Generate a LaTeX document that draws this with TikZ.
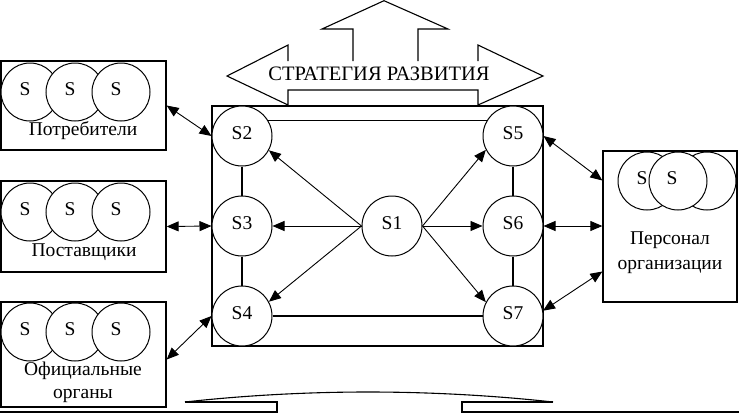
\documentclass[tikz,border=0pt]{standalone}
\usepackage{fontspec}
\setmainfont{Liberation Serif}
\usetikzlibrary{shapes}
\usetikzlibrary{arrows.meta}
\tikzset{
  textnode/.style = {inner sep=0pt, font=\fontsize{19.5}{24}\selectfont},
  s_node/.style = {textnode, circle, draw=black, fill=white, line width=1pt,
    minimum size=60pt, text depth=6pt},% подсистема организации
  sub_node/.style = {circle, draw=black, fill=white, line width=1pt,
    minimum size=58pt, inner sep=0pt},% подсистема внешней среды
  env_box/.style = {rectangle, draw=black, line width=1.3pt, inner sep=0pt},% внешняя среда
  link/.style = {line width=1.1pt},
  one_way/.style = {line width=0.9pt, -{Triangle[length=12pt, width=10pt]}},
  two_way/.style = {line width=0.9pt,
    {Triangle[length=12pt, width=10pt]}-{Triangle[length=12pt, width=10pt]}}
}

\begin{document}
\begin{tikzpicture}[x=1pt, y=-1pt]
  \useasboundingbox (0,0) rectangle (739,413);
  % стрелка стратегии
  \draw[link] (288,61) -- (288,45) -- (227,76) -- (288,105) -- (288,90)
    -- (478,90) -- (478,105) -- (543,76) -- (478,45) -- (478,61);
  \draw[link] (353,61) -- (353,29) -- (322,29) -- (384,0.7) -- (448,29)
    -- (418,29) -- (418,61);
  \node[textnode, font=\fontsize{20.5}{24}\selectfont, anchor=base] (strat) at (379,80) {СТРАТЕГИЯ РАЗВИТИЯ};
  % организация
  \draw[link, line width=1.3pt] (212,106) rectangle (543,346);
  \node[s_node] (S1) at (392,226) {S1};
  \foreach \name/\x/\y in {S2/242/136, S3/242/226, S4/242/316,
                           S5/513/136, S6/513/226, S7/513/316}
    \node[s_node] (\name) at (\x,\y) {\name};
  \draw[link] (S2.30) -- (S5.150);
  \draw[link] (S4.east) -- (S7.west);
  \draw[link] (S2) -- (S3) -- (S4);
  \draw[link] (S5) -- (S6) -- (S7);
  \draw[one_way] (S1.west) -- (S2.-28);
  \draw[one_way] (S1.west) -- (S3.east);
  \draw[one_way] (S1.west) -- (S4.28);
  \draw[one_way] (S1.east) -- (S5.207);
  \draw[one_way] (S1.east) -- (S6.west);
  \draw[one_way] (S1.east) -- (S7.153);
  % внешняя среда
  \node[env_box, minimum width=165pt, minimum height=89pt] (pbox) at (83.5,105.5) {};
  \node[env_box, minimum width=165pt, minimum height=91pt] (qbox) at (83.5,226.5) {};
  \node[env_box, minimum width=165pt, minimum height=105pt] (obox) at (83.5,354.5) {};
  \node[env_box, minimum width=134pt, minimum height=151pt] (rbox) at (670,226.5) {};
  \foreach \y/\g in {92/p, 212/q, 332/o}
    \foreach \x/\n in {30/1, 75/2, 121/3}
      \node[sub_node, label={[textnode, xshift=-5pt, yshift=3pt]center:S}] (\g\n) at (\x,\y) {};
  \node[sub_node, label={[textnode, xshift=-5pt, yshift=3pt]center:S}] (r1) at (647,181) {};
  \node[sub_node] (r3) at (707,181) {};
  \node[sub_node, label={[textnode, xshift=-6pt, yshift=3pt]center:S}] (r2) at (678,181) {};
  \node[textnode, anchor=base] (ptxt) at (83,135) {Потребители};
  \node[textnode, anchor=base] (qtxt) at (84,256) {Поставщики};
  \node[textnode, anchor=base] (otxt) at (83,375) {Официальные};
  \node[textnode, anchor=base] (otxt2) at (83,398) {органы};
  \node[textnode, anchor=base] (rtxt) at (670,244) {Персонал};
  \node[textnode, anchor=base] (rtxt2) at (670,269) {организации};
  \draw[two_way] (pbox.east) -- (S2.west);
  \draw[two_way] (qbox.east) -- (S3.west);
  \draw[two_way] ([yshift=-5pt]obox.east) -- (S4.west);
  \draw[two_way] (S5.east) -- ([yshift=46pt]rbox.west);
  \draw[two_way] (S6.east) -- (S6.east -| rbox.west);
  \draw[two_way] (S7.10) -- ([yshift=-45pt]rbox.west);
  % основание
  \draw[link] (0,412) -- (277,412) -- (277,402) -- (185,402);
  \draw[link] (185,402) parabola bend (368,392) (553,402);
  \draw[link] (553,402) -- (462,402) -- (462,412) -- (739,412);
\end{tikzpicture}
\end{document}
